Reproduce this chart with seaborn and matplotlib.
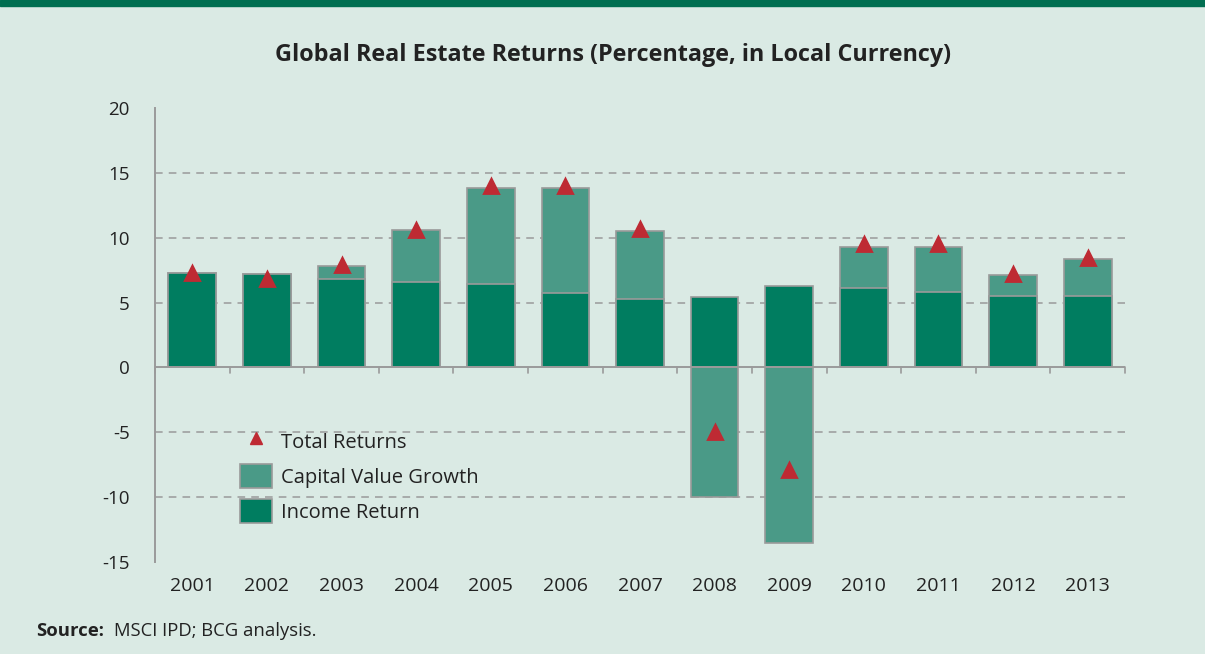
import matplotlib
matplotlib.use('Agg')
import matplotlib.pyplot as plt
import seaborn as sns
import pandas as pd
from matplotlib.patches import Patch, Rectangle
from matplotlib.lines import Line2D

# data
years = ['2001', '2002', '2003', '2004', '2005', '2006', '2007',
         '2008', '2009', '2010', '2011', '2012', '2013']
income_return = [7.3, 7.2, 6.8, 6.6, 6.4, 5.7, 5.3, 5.4, 6.3, 6.1, 5.8, 5.5, 5.5]
capital_growth = [0.0, 0.0, 1.05, 4.0, 7.4, 8.1, 5.2, -10.0, -13.5, 3.2, 3.5, 1.65, 2.85]
total_returns = [7.3, 6.8, 7.9, 10.6, 14.0, 14.0, 10.7, -5.0, -7.9, 9.5, 9.5, 7.2, 8.4]

BG = '#DAEAE4'
INCOME_COLOR = '#007D60'
CAPITAL_COLOR = '#4A9A87'
TRI_COLOR = '#BE2A33'
EDGE = '#9A9A9A'
TEXT = '#222222'

sns.set_style('white')
plt.rcParams['font.family'] = ['Open Sans', 'DejaVu Sans']
plt.rcParams['axes.unicode_minus'] = False

df = pd.DataFrame({'year': years, 'income': income_return,
                   'capital': capital_growth, 'total': total_returns})
# capital bars sit on top of income when positive, hang from zero when negative
df['capital_top'] = [i + c if c >= 0 else c for i, c in zip(df['income'], df['capital'])]

fig = plt.figure(figsize=(12.05, 6.54), dpi=100, facecolor=BG)
ax = fig.add_axes([155 / 1205, 1 - 562 / 654, 970 / 1205, 454 / 654])
ax.set_facecolor(BG)

# top green band
fig.patches.append(Rectangle((0, 1 - 6 / 654), 1, 6 / 654, transform=fig.transFigure,
                             color='#006F51', zorder=0))

sns.barplot(data=df, x='year', y='capital_top', color=CAPITAL_COLOR, saturation=1,
            width=0.64, edgecolor=EDGE, linewidth=1.2, ax=ax, zorder=2)
sns.barplot(data=df, x='year', y='income', color=INCOME_COLOR, saturation=1,
            width=0.64, edgecolor=EDGE, linewidth=1.2, ax=ax, zorder=2)
sns.pointplot(data=df, x='year', y='total', color=TRI_COLOR, marker='^',
              linestyle='none', markersize=10, errorbar=None, ax=ax, zorder=4)

ax.set_xlim(-0.5, len(years) - 0.5)
ax.set_ylim(-15, 20)
ax.set_yticks(range(-15, 21, 5))
ax.set_xlabel('')
ax.set_ylabel('')

# dashed gridlines
for v in [-10, -5, 5, 10, 15]:
    ax.axhline(v, color=EDGE, linestyle=(0, (5, 4)), linewidth=1.1, zorder=0)

# x axis line at zero with ticks between categories
ax.axhline(0, color=EDGE, linewidth=1.4, zorder=3)
for k in range(len(years) + 1):
    ax.plot([k - 0.5, k - 0.5], [0, -0.45], color=EDGE, linewidth=1.2, zorder=3,
            clip_on=False)

for side in ['top', 'right', 'bottom']:
    ax.spines[side].set_visible(False)
ax.spines['left'].set_color(EDGE)
ax.spines['left'].set_linewidth(1.4)
ax.tick_params(axis='y', length=7, width=1.2, color=EDGE, pad=11,
               labelsize=13.5, labelcolor=TEXT)
ax.tick_params(axis='x', length=0, pad=11, labelsize=14, labelcolor=TEXT)

handles = [
    Line2D([], [], marker='^', linestyle='none', color=TRI_COLOR, markersize=8.5),
    Patch(facecolor=CAPITAL_COLOR, edgecolor=EDGE, linewidth=1.2),
    Patch(facecolor=INCOME_COLOR, edgecolor=EDGE, linewidth=1.2),
]
fig.legend(handles, ['Total Returns', 'Capital Value Growth', 'Income Return'],
           loc='upper left', bbox_to_anchor=(240 / 1205, 1 - 429 / 654),
           frameon=False, fontsize=14.5, handlelength=1.6, handleheight=1.45,
           labelspacing=0.55, handletextpad=0.45, borderpad=0, borderaxespad=0,
           labelcolor=TEXT)

fig.text(613 / 1205, 1 - 55 / 654, 'Global Real Estate Returns (Percentage, in Local Currency)',
         ha='center', va='center', fontsize=16.8, fontweight='bold', color=TEXT)

src = fig.text(36 / 1205, 1 - 631 / 654, 'Source:', ha='left', va='center',
               fontsize=13.3, fontweight='bold', color=TEXT)
ax.annotate('MSCI IPD; BCG analysis.', xy=(1, 0.5), xycoords=src, xytext=(7, 0),
            textcoords='offset points', ha='left', va='center', fontsize=13.3,
            color=TEXT, annotation_clip=False)

fig.savefig('out.png', dpi=100, facecolor=BG)
